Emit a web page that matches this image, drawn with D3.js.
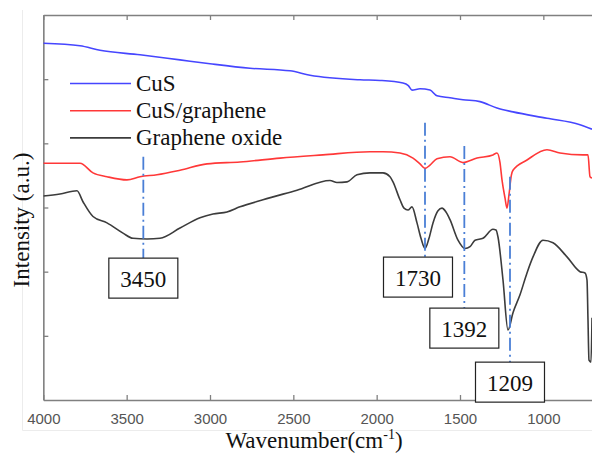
<!DOCTYPE html>
<html>
<head>
<meta charset="utf-8">
<script src="https://cdn.jsdelivr.net/npm/d3@7/dist/d3.min.js"></script>
<style>
  html, body { margin: 0; padding: 0; background: #fff; }
  svg { display: block; }
</style>
</head>
<body>
<svg id="chart" width="592" height="454"></svg>
<script>
// FTIR spectra: wavenumber (cm^-1) vs. intensity (arbitrary units, offset traces)
const xTicks = [4000, 3500, 3000, 2500, 2000, 1500, 1000];
const yTicks = [1, 2, 3, 4, 5];

const seriesNames = ["CuS", "CuS/graphene", "Graphene oxide"];

const cusSpectrum = [
  [4000, 5.56], [3780, 5.52], [3660, 5.45], [3420, 5.38], [3180, 5.30],
  [3000, 5.24], [2760, 5.17], [2520, 5.13], [2400, 5.06], [2100, 4.99],
  [1980, 4.98], [1842, 4.94], [1810, 4.90], [1788, 4.83], [1740, 4.85],
  [1680, 4.83], [1638, 4.74], [1560, 4.71], [1482, 4.68], [1380, 4.65],
  [1278, 4.55], [1182, 4.49], [978, 4.39], [780, 4.29], [708, 4.22]
];

const cusGrapheneSpectrum = [
  [4000, 3.69], [3780, 3.69], [3702, 3.54], [3618, 3.48], [3498, 3.43],
  [3420, 3.48], [3318, 3.51], [3180, 3.58], [3018, 3.68], [2820, 3.71],
  [2580, 3.77], [2322, 3.82], [2040, 3.87], [1962, 3.87], [1860, 3.85],
  [1782, 3.77], [1740, 3.68], [1710, 3.61], [1680, 3.66], [1638, 3.76],
  [1560, 3.79], [1482, 3.70], [1398, 3.77], [1302, 3.82], [1278, 3.85],
  [1260, 3.70], [1248, 3.43], [1230, 3.15], [1218, 2.99], [1206, 3.20],
  [1192, 3.50], [1182, 3.58], [1098, 3.74], [978, 3.90], [900, 3.85],
  [762, 3.82], [732, 3.82], [720, 3.48], [708, 3.46]
];

const grapheneOxideSpectrum = [
  [4000, 3.18], [3900, 3.21], [3798, 3.26], [3762, 3.09], [3702, 2.86],
  [3618, 2.76], [3522, 2.60], [3462, 2.52], [3378, 2.51], [3300, 2.52],
  [3180, 2.68], [3060, 2.84], [2982, 2.90], [2898, 2.93], [2820, 3.01],
  [2682, 3.12], [2478, 3.27], [2280, 3.42], [2238, 3.39], [2178, 3.40],
  [2118, 3.51], [2040, 3.54], [1962, 3.54], [1920, 3.48], [1902, 3.40],
  [1860, 3.12], [1836, 2.99], [1812, 2.96], [1788, 3.01], [1758, 2.76],
  [1734, 2.52], [1710, 2.36], [1686, 2.52], [1662, 2.76], [1632, 2.95],
  [1608, 2.99], [1584, 2.93], [1560, 2.81], [1512, 2.49], [1470, 2.36],
  [1440, 2.39], [1410, 2.49], [1362, 2.52], [1302, 2.66], [1284, 2.65],
  [1272, 2.54], [1242, 1.87], [1212, 1.09], [1182, 1.36], [1140, 1.64],
  [1098, 1.98], [1062, 2.23], [1002, 2.49], [942, 2.45], [858, 2.23],
  [780, 2.00], [750, 1.98], [738, 1.87], [732, 1.25], [726, 0.62],
  [714, 0.59], [708, 1.28]
];

// Peak annotations: label text and the wavenumber where each marker line sits
const peakLabels = ["3450", "1730", "1392", "1209"];
const peakMarkers = [3400, 1710, 1474, 1200];
// intensity where each marker line starts (top) and where its label box begins
const peakLineTop = [3.79, 4.32, 3.96, 3.48];
const peakBoxTop = [2.211, 2.227, 1.432, 0.59];

// ---- layout ----
const W = 592, H = 454;
const plot = { left: 43.33, top: 15, bottom: 400 };
const svg = d3.select("#chart");

const SERIF = "Liberation Serif";
const SANS = "Liberation Sans";

const x = d3.scaleLinear()
  .domain([4000, 500])
  .range([plot.left, plot.left + 3500 / 6]);
const y = d3.scaleLinear()
  .domain([0, 6])
  .range([plot.bottom, plot.top]);

const axisGray = "#808080";

// faint figure border
svg.append("path")
  .attr("d", `M22.5,10 V430.5 H${W}`)
  .attr("fill", "none")
  .attr("stroke", "#ececec")
  .attr("stroke-width", 1);

// clip for data
svg.append("defs").append("clipPath").attr("id", "plotclip")
  .append("rect")
  .attr("x", plot.left).attr("y", plot.top)
  .attr("width", W - plot.left).attr("height", plot.bottom - plot.top);

// ---- axes ----
const gBottom = svg.append("g")
  .attr("transform", `translate(0,${plot.bottom})`)
  .call(d3.axisBottom(x).tickValues(xTicks).tickSizeInner(-5).tickSizeOuter(0)
    .tickPadding(13).tickFormat(d3.format("d")));
const gTop = svg.append("g")
  .attr("transform", `translate(0,${plot.top})`)
  .call(d3.axisTop(x).tickValues(xTicks).tickSizeInner(-5).tickSizeOuter(0)
    .tickFormat(""));
const gLeft = svg.append("g")
  .attr("transform", `translate(${plot.left},0)`)
  .call(d3.axisLeft(y).tickValues(yTicks).tickSizeInner(-5).tickSizeOuter(0)
    .tickFormat(""));

[gBottom, gTop, gLeft].forEach(g => {
  g.select(".domain").attr("stroke", axisGray).attr("stroke-width", 1.6);
  g.selectAll(".tick line").attr("stroke", axisGray).attr("stroke-width", 1.3);
});
gBottom.attr("font-family", SANS).attr("font-size", 15);
gBottom.selectAll(".tick text").attr("fill", "#555");

// axis titles
svg.append("text")
  .attr("transform", "translate(29,220) rotate(-90)")
  .attr("text-anchor", "middle")
  .attr("font-family", SERIF)
  .attr("font-size", 23)
  .attr("fill", "#111")
  .text("Intensity (a.u.)");

const xt = svg.append("text")
  .attr("x", 314)
  .attr("y", 448)
  .attr("text-anchor", "middle")
  .attr("font-family", SERIF)
  .attr("font-size", 23)
  .attr("fill", "#111");
xt.append("tspan").text("Wavenumber(cm");
xt.append("tspan").attr("font-size", 14).attr("dy", -9).text("-1");
xt.append("tspan").attr("dy", 9).text(")");

// ---- spectra ----
const colors = ["#4646ff", "#ff3838", "#3c3c3c"];
const spectra = [cusSpectrum, cusGrapheneSpectrum, grapheneOxideSpectrum];

const line = d3.line()
  .x(d => x(d[0]))
  .y(d => y(d[1]))
  .curve(d3.curveMonotoneX);

const gData = svg.append("g").attr("clip-path", "url(#plotclip)");
spectra.forEach((s, i) => {
  gData.append("path")
    .datum(s)
    .attr("fill", "none")
    .attr("stroke", colors[i])
    .attr("stroke-width", 1.6)
    .attr("stroke-linejoin", "round")
    .attr("d", line);
});

// ---- peak markers ----
const markerColor = "#4a7fd6";
const boxW = 69, boxH = 40;
const boxShift = [0, -7, 0, 0];

peakMarkers.forEach((w, i) => {
  const px = x(w);
  const boxTopPx = y(peakBoxTop[i]);
  svg.append("line")
    .attr("x1", px).attr("x2", px)
    .attr("y1", y(peakLineTop[i]))
    .attr("y2", boxTopPx)
    .attr("stroke", markerColor)
    .attr("stroke-width", 1.8)
    .attr("stroke-dasharray", "13,4,2,4");
  const cx = px + boxShift[i];
  svg.append("rect")
    .attr("x", cx - boxW / 2)
    .attr("y", boxTopPx)
    .attr("width", boxW)
    .attr("height", boxH)
    .attr("fill", "#fff")
    .attr("stroke", "#222")
    .attr("stroke-width", 1.2);
  svg.append("text")
    .attr("x", cx)
    .attr("y", boxTopPx + 29)
    .attr("text-anchor", "middle")
    .attr("font-family", SERIF)
    .attr("font-size", 23)
    .attr("fill", "#111")
    .text(peakLabels[i]);
});

// ---- legend ----
const legend = svg.append("g").attr("transform", "translate(70,83.5)");
seriesNames.forEach((name, i) => {
  const row = legend.append("g").attr("transform", `translate(0,${i * 27.2})`);
  row.append("line")
    .attr("x1", 0).attr("x2", 61)
    .attr("stroke", colors[i])
    .attr("stroke-width", 1.6);
  row.append("text")
    .attr("x", 66)
    .attr("y", 7.5)
    .attr("font-family", SERIF)
    .attr("font-size", 23)
    .attr("fill", "#111")
    .text(name);
});
</script>
</body>
</html>
